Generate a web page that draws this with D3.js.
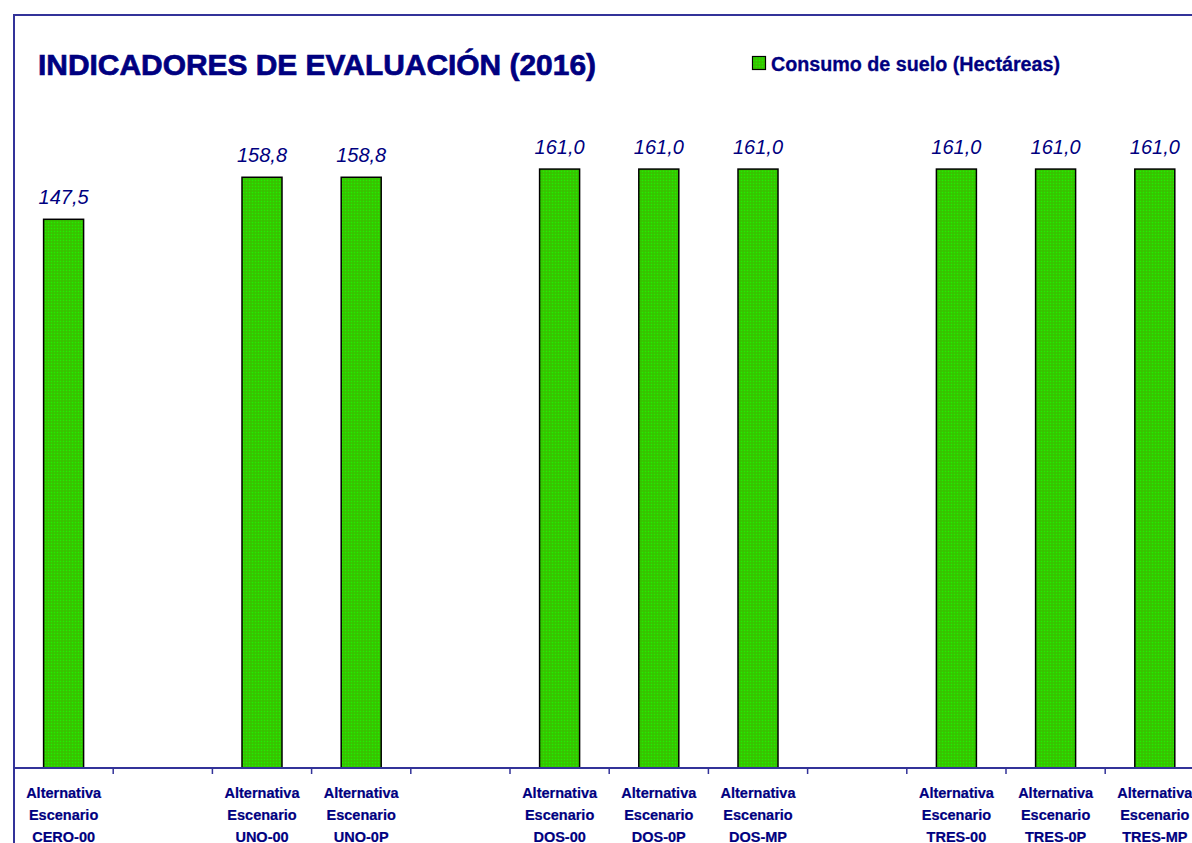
<!DOCTYPE html>
<html>
<head>
<meta charset="utf-8">
<script src="https://cdn.jsdelivr.net/npm/d3@7"></script>
<style>
  body { margin: 0; background: #fff; }
  svg { display: block; font-family: "Liberation Sans", Arial, sans-serif; }
</style>
</head>
<body>
<div id="chart-area"></div>
<script>
// categories (empty slots are gaps between groups)
var categories = ["CERO-00", "gap1", "UNO-00", "UNO-0P", "gap2", "DOS-00", "DOS-0P", "DOS-MP", "gap3", "TRES-00", "TRES-0P", "TRES-MP"];
var labels = [
  ["Alternativa", "Escenario", "CERO-00"], [],
  ["Alternativa", "Escenario", "UNO-00"], ["Alternativa", "Escenario", "UNO-0P"], [],
  ["Alternativa", "Escenario", "DOS-00"], ["Alternativa", "Escenario", "DOS-0P"], ["Alternativa", "Escenario", "DOS-MP"], [],
  ["Alternativa", "Escenario", "TRES-00"], ["Alternativa", "Escenario", "TRES-0P"], ["Alternativa", "Escenario", "TRES-MP"]
];
var values = [147.5, null, 158.8, 158.8, null, 161.0, 161.0, 161.0, null, 161.0, 161.0, 161.0];
var seriesName = "Consumo de suelo (Hectáreas)";
var title = "INDICADORES DE EVALUACIÓN (2016)";

var width = 1192, height = 843;
var navy = "#000080", frame = "#333399";

var svg = d3.select("#chart-area").append("svg")
  .attr("width", width)
  .attr("height", height);

// dotted green fill
var defs = svg.append("defs");
var pat = defs.append("pattern")
  .attr("id", "greenPat")
  .attr("patternUnits", "userSpaceOnUse")
  .attr("width", 3).attr("height", 3);
pat.append("rect").attr("width", 3).attr("height", 3).attr("fill", "#33cc00");
pat.append("rect").attr("x", 0).attr("y", 0).attr("width", 1).attr("height", 1).attr("fill", "#22ee00");
pat.append("rect").attr("x", 1.5).attr("y", 1.5).attr("width", 1).attr("height", 1).attr("fill", "#44aa00");

// scales
var x = d3.scaleBand()
  .domain(categories)
  .range([14, 14 + 12 * 99.2])
  .paddingInner(0).paddingOuter(0);

var y = d3.scaleLinear()
  .domain([0, 180])
  .range([768, 768 - 180 * 3.72]);

var barW = 40;

// frame (top and left)
svg.append("path")
  .attr("d", "M14," + height + "V15H" + width)
  .attr("fill", "none")
  .attr("stroke", frame)
  .attr("stroke-width", 2);

// title
svg.append("text")
  .attr("x", 38).attr("y", 75)
  .attr("fill", navy)
  .attr("stroke", navy).attr("stroke-width", 0.7)
  .style("font-weight", "bold")
  .style("font-size", "30px")
  .attr("textLength", 558)
  .attr("lengthAdjust", "spacingAndGlyphs")
  .text(title);

// legend
svg.append("rect")
  .attr("x", 752.5).attr("y", 56.5)
  .attr("width", 13).attr("height", 13)
  .attr("fill", "url(#greenPat)")
  .attr("stroke", "#000").attr("stroke-width", 1.2);
svg.append("text")
  .attr("x", 771).attr("y", 71)
  .attr("fill", navy)
  .attr("stroke", navy).attr("stroke-width", 0.3)
  .style("font-weight", "bold")
  .style("font-size", "20px")
  .attr("textLength", 289)
  .attr("lengthAdjust", "spacingAndGlyphs")
  .text(seriesName);

// bars
var data = categories.map(function (c, i) { return { cat: c, value: values[i], label: labels[i] }; });
var withValue = data.filter(function (d) { return d.value != null; });

svg.selectAll("rect.bar")
  .data(withValue)
  .enter()
  .append("rect")
  .attr("class", "bar")
  .attr("x", function (d) { return x(d.cat) + x.bandwidth() / 2 - barW / 2; })
  .attr("y", function (d) { return y(d.value); })
  .attr("width", barW)
  .attr("height", function (d) { return y(0) - y(d.value); })
  .attr("fill", "url(#greenPat)")
  .attr("stroke", "#000")
  .attr("stroke-width", 1.5);

// value labels
svg.selectAll("text.val")
  .data(withValue)
  .enter()
  .append("text")
  .attr("class", "val")
  .attr("x", function (d) { return x(d.cat) + x.bandwidth() / 2; })
  .attr("y", function (d) { return y(d.value) - 15; })
  .attr("text-anchor", "middle")
  .attr("fill", navy)
  .style("font-style", "italic")
  .style("font-size", "20px")
  .text(function (d) { return d3.format(".1f")(d.value).replace(".", ","); });

// x axis
var xAxis = d3.axisBottom(x).tickSize(0).tickFormat("");
var gx = svg.append("g")
  .attr("transform", "translate(0,768)")
  .call(xAxis);
gx.select(".domain").remove();
gx.append("line")
  .attr("x1", 14).attr("x2", width)
  .attr("stroke", frame).attr("stroke-width", 2);
gx.selectAll("line.sep")
  .data(categories)
  .enter()
  .append("line")
  .attr("class", "sep")
  .attr("x1", function (d) { return x(d); })
  .attr("x2", function (d) { return x(d); })
  .attr("y1", 0).attr("y2", 6)
  .attr("stroke", frame).attr("stroke-width", 1.5);

// category labels (third line sits on the bottom edge, as in the source)
var lab = gx.selectAll("text.cat")
  .data(data)
  .enter()
  .append("text")
  .attr("class", "cat")
  .attr("text-anchor", "middle")
  .attr("fill", navy)
  .attr("stroke", navy).attr("stroke-width", 0.2)
  .style("font-weight", "bold")
  .style("font-size", "14.5px")
  .attr("transform", function (d) { return "translate(" + (x(d.cat) + x.bandwidth() / 2) + ",0)"; });
lab.selectAll("tspan")
  .data(function (d) { return d.label; })
  .enter()
  .append("tspan")
  .attr("x", 0)
  .attr("y", function (d, i) { return 30 + i * 22; })
  .text(function (d) { return d; });
</script>
</body>
</html>
